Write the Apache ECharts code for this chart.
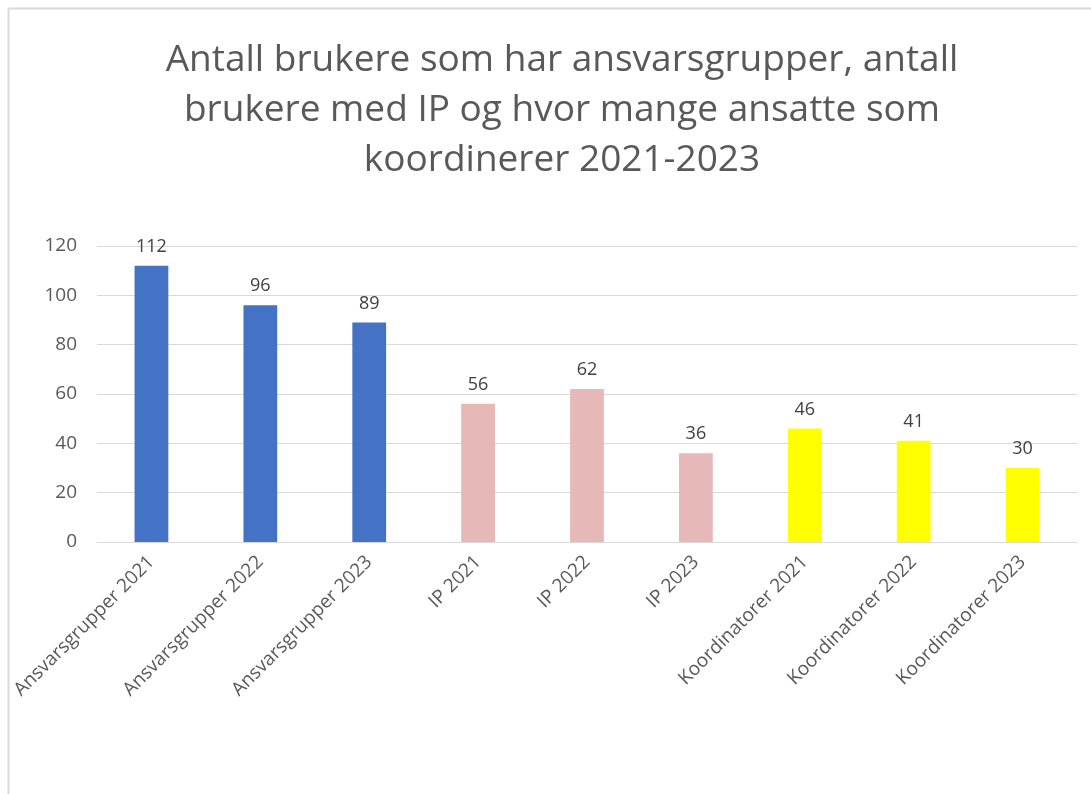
<!DOCTYPE html>
<html><head><meta charset="utf-8">
<script src="https://cdn.jsdelivr.net/npm/echarts@6/dist/echarts.min.js"></script>
<style>html,body{margin:0;padding:0;background:#fff}#c{width:1091px;height:794px}</style>
</head><body><div id="c"></div>
<script>
const categories = ["Ansvarsgrupper 2021","Ansvarsgrupper 2022","Ansvarsgrupper 2023","IP 2021","IP 2022","IP 2023","Koordinatorer 2021","Koordinatorer 2022","Koordinatorer 2023"];
const values = [112, 96, 89, 56, 62, 36, 46, 41, 30];
const barColors = ["#4472C4","#4472C4","#4472C4","#E6B8B7","#E6B8B7","#E6B8B7","#FFFF00","#FFFF00","#FFFF00"];
const yTicks = [0, 20, 40, 60, 80, 100, 120];
const titleText = "Antall brukere som har ansvarsgrupper, antall\nbrukere med IP og hvor mange ansatte som\nkoordinerer 2021-2023";

const font = "'Open Sans', sans-serif";
const chart = echarts.init(document.getElementById('c'), null, {renderer:'canvas'});
chart.setOption({
  backgroundColor: '#fff',
  animation: false,
  graphic: [
    {type:'line', shape:{x1:8.5,y1:8.5,x2:1091,y2:8.5}, style:{stroke:'#d9d9d9', lineWidth:2}},
    {type:'line', shape:{x1:8.5,y1:8.5,x2:8.5,y2:794}, style:{stroke:'#d9d9d9', lineWidth:2}}
  ],
  title: {
    text: titleText,
    left: 557, top: 30, textAlign: 'center',
    textStyle: {fontFamily: font, fontSize: 37, fontWeight: 'normal', color: '#595959', lineHeight: 50}
  },
  grid: {left: 97, right: 14, top: 246, bottom: 252, containLabel: false},
  xAxis: {
    type: 'category', data: categories,
    axisLine: {lineStyle: {color: '#d9d9d9', width: 1}},
    axisTick: {show: false},
    axisLabel: {rotate: 45, interval: 0, fontFamily: font, fontSize: 19, color: '#595959', margin: 17}
  },
  yAxis: {
    type: 'value', min: 0, max: yTicks[yTicks.length-1], interval: 20,
    axisLine: {show: false}, axisTick: {show: false},
    splitLine: {lineStyle: {color: '#d9d9d9', width: 1}},
    axisLabel: {fontFamily: font, fontSize: 19, color: '#595959', margin: 20}
  },
  series: [{
    type: 'bar', data: values.map((v,i)=>({value:v, itemStyle:{color: barColors[i]}})),
    barWidth: '31%',
    label: {show: true, position: 'top', distance: 10, fontFamily: font, fontSize: 18, color: '#404040'}
  }]
});
</script></body></html>
